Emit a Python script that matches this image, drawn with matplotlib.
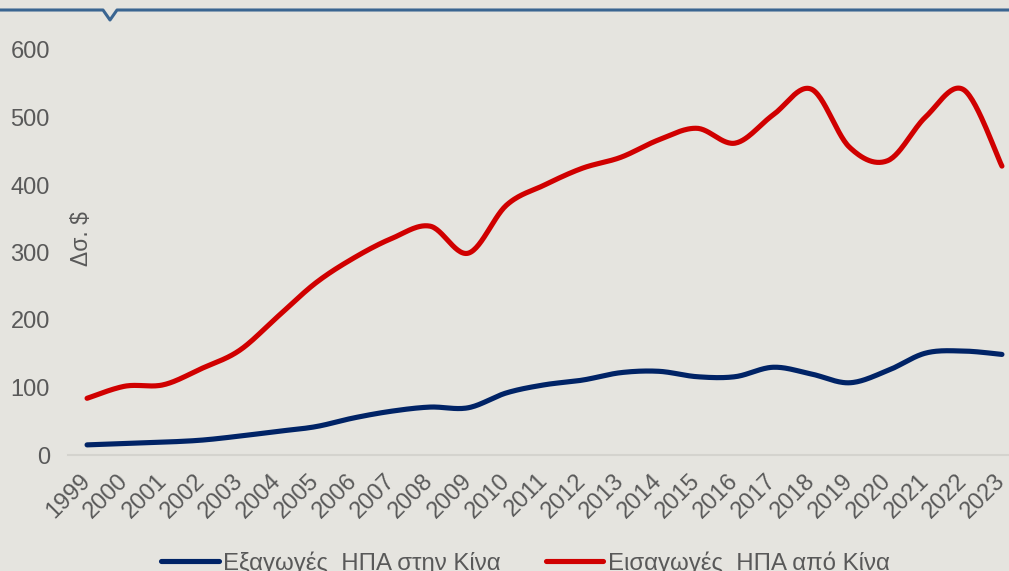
import numpy as np
import matplotlib
matplotlib.use("Agg")
import matplotlib.pyplot as plt
from matplotlib.lines import Line2D

plt.rcParams['font.family'] = ['Liberation Sans', 'DejaVu Sans']

years = list(range(1999, 2024))
exports = [15, 17, 19, 22, 28, 35, 42, 55, 65, 71, 70, 92, 104, 111, 122, 124,
           116, 116, 130, 120, 107, 125, 151, 154, 149]
imports = [84, 102, 104, 128, 155, 205, 255, 292, 321, 339, 299, 370, 400, 425,
           441, 467, 484, 462, 504, 542, 456, 436, 501, 541, 428]
labels = ["Εξαγωγές  ΗΠΑ στην Κίνα", "Εισαγωγές  ΗΠΑ από Κίνα"]
colors = ["#002366", "#d00000"]
bg = "#e5e4df"
txt = "#595959"


def smooth(x, y, n=30):
    # Excel-like smoothed line (Catmull-Rom as cubic Bezier)
    x = np.asarray(x, float)
    y = np.asarray(y, float)
    px = np.concatenate([[x[0]], x, [x[-1]]])
    py = np.concatenate([[y[0]], y, [y[-1]]])
    xs, ys = [], []
    t = np.linspace(0, 1, n)
    for i in range(1, len(px) - 2):
        p0 = np.array([px[i], py[i]])
        p3 = np.array([px[i + 1], py[i + 1]])
        c1 = p0 + (p3 - np.array([px[i - 1], py[i - 1]])) / 6
        c2 = p3 - (np.array([px[i + 2], py[i + 2]]) - p0) / 6
        b = ((1 - t) ** 3)[:, None] * p0 + (3 * (1 - t) ** 2 * t)[:, None] * c1 \
            + (3 * (1 - t) * t ** 2)[:, None] * c2 + (t ** 3)[:, None] * p3
        xs.extend(b[:, 0])
        ys.extend(b[:, 1])
    return xs, ys


W, H = 1009, 571
fig = plt.figure(figsize=(W / 100, H / 100), dpi=100, facecolor=bg)
ax = fig.add_axes([68 / W, 1 - 455 / H, (1021 - 68) / W, (455 - 50) / H])
ax.set_facecolor(bg)

for vals, c, lab in zip([exports, imports], colors, labels):
    sx, sy = smooth(years, vals)
    ax.plot(sx, sy, color=c, lw=3.7, solid_capstyle='round', label=lab, clip_on=False)

ax.set_xlim(1998.5, 2023.5)
ax.set_ylim(0, 600)
ax.set_yticks(range(0, 601, 100))
ax.set_xticks(years)
ax.set_xticklabels([str(y) for y in years], rotation=45, ha='right', va='center',
                   rotation_mode='anchor')
ax.tick_params(axis='both', length=0, labelsize=17, labelcolor=txt)
ax.tick_params(axis='y', pad=13)
ax.tick_params(axis='x', pad=16)
for s in ['top', 'right', 'left']:
    ax.spines[s].set_visible(False)
ax.spines['bottom'].set_color('#d4d3ce')
ax.spines['bottom'].set_linewidth(1.5)

ax.text(1998.85, 320, "Δσ. $", rotation=90, ha='center', va='center',
        fontsize=16.5, color=txt)

leg = ax.legend(loc='center', bbox_to_anchor=(0.48, (455 - 563) / (455 - 50)),
                ncol=2, frameon=False, fontsize=17.3, handlelength=2.4,
                handletextpad=0.2, columnspacing=1.85)
for t in leg.get_texts():
    t.set_color(txt)

# top border with small notch
fx = np.array([0, 103, 110, 117, W]) / W
fy = 1 - np.array([10, 10, 20, 10, 10]) / H
fig.add_artist(Line2D(fx, fy, color="#3a6591", lw=2.2, transform=fig.transFigure))

fig.savefig("out.png", dpi=100, facecolor=bg)
